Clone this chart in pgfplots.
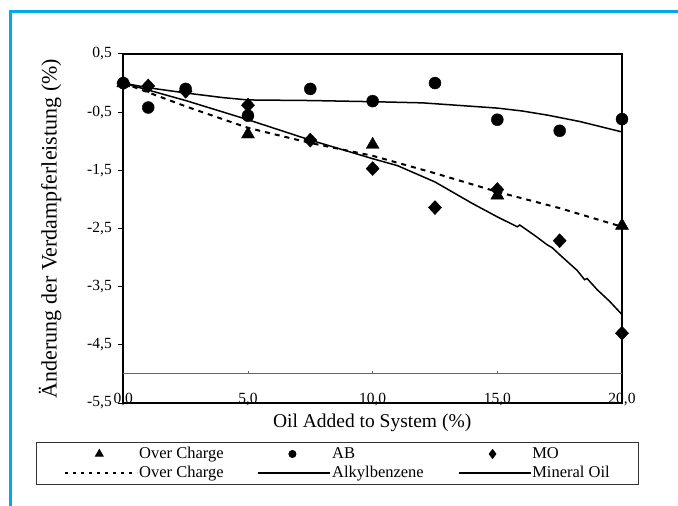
\documentclass[border=0pt]{standalone}
\usepackage{pgfplots}
\pgfplotsset{compat=1.18}
\usepackage{fontspec}
\setmainfont{Liberation Serif}
\definecolor{framecyan}{RGB}{0,170,236}
\pgfplotsset{
  markentry/.style={legend image code/.code={\draw[##1] plot coordinates {(34bp,0bp)};}},
  lineentry/.style={legend image code/.code={\draw[##1] (0bp,0bp) -- (72bp,0bp);}},
}
\begin{document}
\begin{tikzpicture}
\path[use as bounding box] (0bp,0bp) rectangle (678bp,506bp);
\draw[framecyan, line width=3bp] (10bp,0bp) -- (10bp,494bp) -- (678bp,494bp);
\begin{axis}[
  at={(123.3bp,103bp)}, anchor=south west,
  scale only axis, width=498.7bp, height=349bp,
  xmin=0, xmax=20, ymin=-5.5, ymax=0.5,
  clip=false,
  xtick={0,5,10,15,20},
  ytick={0.5,-0.5,-1.5,-2.5,-3.5,-4.5,-5.5},
  tick align=outside, ytick pos=left, major tick length=5bp,
  xtick style={draw=none},
  ytick style={line width=1bp, black},
  axis line style={line width=1.6bp, black},
  /pgf/number format/assume math mode=true,
  /pgf/number format/.cd, fixed, fixed zerofill, precision=1, use comma, /pgfplots/.cd,
  ticklabel style={font=\fontsize{15.5bp}{18bp}\selectfont},
  xticklabel style={anchor=base, yshift=5bp},
  yticklabel style={xshift=-3bp},
  xlabel={Oil Added to System (\%)},
  xlabel style={at={(axis description cs:0.499,-0.056)}, anchor=center, font=\fontsize{19.5bp}{22bp}\selectfont},
  ylabel={Änderung der Verdampferleistung (\%)},
  ylabel style={at={(axis description cs:-0.147,0.5)}, anchor=center, font=\fontsize{22bp}{26bp}\selectfont},
  legend columns=3, legend cell align=left,
  legend style={
    at={(axis description cs:-0.175,-0.112)}, anchor=north west,
    draw=black!80, line width=0.8bp,
    font=\fontsize{16.5bp}{19bp}\selectfont,
    inner xsep=28bp, inner ysep=3.5bp,
    nodes={inner xsep=1bp, inner ysep=1.5bp},
    /tikz/every even column/.append style={column sep=33bp},
    row sep=3bp,
  },
]
\addlegendimage{only marks, mark=triangle*, mark size=4.5bp, black, markentry}
\addlegendentry{Over Charge}
\addlegendimage{only marks, mark=*, mark size=3.6bp, black, markentry}
\addlegendentry{AB}
\addlegendimage{only marks, mark=diamond*, mark size=4.5bp, black, markentry}
\addlegendentry{MO}
\addlegendimage{black, line width=1.8bp, dash pattern=on 3bp off 5bp, lineentry}
\addlegendentry{Over Charge}
\addlegendimage{black, line width=1.5bp, lineentry}
\addlegendentry{Alkylbenzene}
\addlegendimage{black, line width=1.5bp, lineentry}
\addlegendentry{Mineral Oil}

% gray line at -5 with small ticks
\draw[black!60, line width=1bp] (axis cs:0,-5) -- (axis cs:20,-5);
\draw[black!60, line width=0.8bp] (axis cs:5,-5) -- ++(0bp,3bp) (axis cs:10,-5) -- ++(0bp,3bp) (axis cs:15,-5) -- ++(0bp,3bp);

% Over Charge fitted line (dashed)
\addplot[forget plot, black, line width=2bp, dash pattern=on 5bp off 5bp] coordinates {
(0,0) (1,-0.16) (2.5,-0.40) (5,-0.77) (7.5,-1.03) (10,-1.25) (12.5,-1.55) (15,-1.87) (17.5,-2.15) (20,-2.47)};
% Alkylbenzene line
\addplot[forget plot, black, line width=1.5bp] coordinates {
(0,0) (1,-0.08) (2.5,-0.17) (4,-0.25) (5,-0.29) (7.5,-0.30) (10,-0.32) (12,-0.34) (13,-0.37) (15,-0.43) (16,-0.48) (17,-0.55) (18.3,-0.66) (20,-0.84)};
% Mineral oil line
\addplot[forget plot, black, line width=1.5bp] coordinates {
(0,0) (1,-0.12) (2.5,-0.30) (5,-0.63) (7.5,-0.98) (10,-1.30) (11,-1.42) (12.5,-1.70) (14,-2.07) (15,-2.30) (15.8,-2.47) (15.9,-2.44) (16.5,-2.62) (17,-2.78) (17.2,-2.83) (17.5,-2.95) (18.2,-3.22) (18.5,-3.38) (18.6,-3.36) (19,-3.55) (19.5,-3.75) (20,-3.98)};

% Over Charge measured
\addplot[forget plot, only marks, mark=triangle*, mark size=7.5bp, black] coordinates {
(0,0) (5,-0.88) (10,-1.06) (15,-1.93) (20,-2.45)};
% AB measured
\addplot[forget plot, only marks, mark=*, mark size=6bp, black] coordinates {
(0,0) (1,-0.42) (2.5,-0.10) (5,-0.56) (7.5,-0.10) (10,-0.31) (12.5,0.00) (15,-0.63) (17.5,-0.82) (20,-0.62)};
% MO measured
\addplot[forget plot, only marks, mark=diamond*, mark size=7bp, mark options={xscale=1.25}, black] coordinates {
(0,0) (1,-0.05) (2.5,-0.14) (5,-0.38) (7.5,-0.98) (10,-1.47) (12.5,-2.14) (15,-1.83) (17.5,-2.71) (20,-4.30)};
\end{axis}
\end{tikzpicture}
\end{document}
